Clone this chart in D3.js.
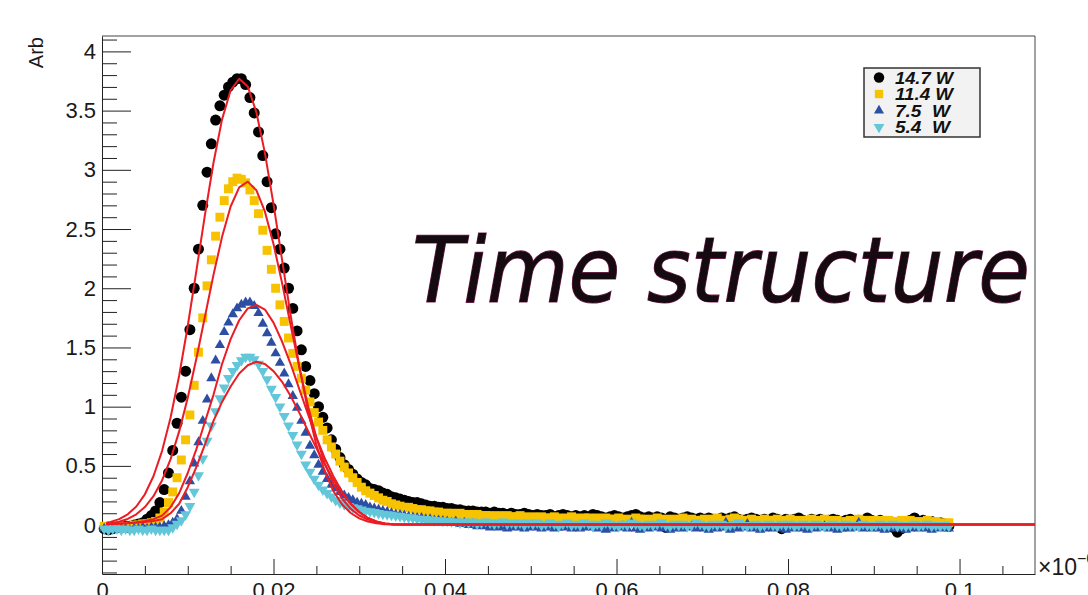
<!DOCTYPE html>
<html>
<head>
<meta charset="utf-8">
<script src="https://cdn.jsdelivr.net/npm/d3@7"></script>
<style>
  html, body { margin: 0; padding: 0; background: #ffffff; }
  svg { display: block; }
</style>
</head>
<body>
<div id="chart"></div>
<script>
// ---- histogram binning (time axis, in units of 1e-6) ----
const binStart = 0.00025;
const binWidth = 0.0005;

// ---- measured pulse shapes per laser power ----
const series147 = [
  -0.03,-0.04,-0.03,-0.02,-0.02,-0.01,-0.01,0.00,0.01,0.02,
  0.05,0.08,0.12,0.19,0.30,0.44,0.63,0.86,1.08,1.30,
  1.65,2.00,2.33,2.70,2.98,3.22,3.42,3.54,3.63,3.70,
  3.74,3.77,3.77,3.72,3.61,3.48,3.32,3.12,2.90,2.68,
  2.46,2.33,2.17,2.00,1.83,1.64,1.48,1.34,1.22,1.11,
  1.00,0.91,0.82,0.72,0.64,0.57,0.51,0.47,0.43,0.39,
  0.36,0.34,0.31,0.30,0.29,0.27,0.26,0.24,0.23,0.22,
  0.21,0.20,0.19,0.19,0.18,0.17,0.16,0.16,0.15,0.15,
  0.14,0.14,0.13,0.13,0.12,0.12,0.12,0.11,0.11,0.11,
  0.10,0.11,0.10,0.10,0.09,0.10,0.09,0.09,0.10,0.09,
  0.08,0.09,0.08,0.08,0.09,0.07,0.08,0.09,0.08,0.07,
  0.08,0.07,0.08,0.07,0.09,0.08,0.07,0.06,0.07,0.08,
  0.07,0.06,0.07,0.08,0.09,0.07,0.06,0.07,0.06,0.07,
  0.06,-0.02,0.07,0.06,0.05,0.06,0.07,0.06,0.05,0.06,
  0.05,0.06,0.05,0.04,0.06,0.05,0.06,0.07,0.05,0.04,
  0.05,0.06,0.05,0.04,0.05,0.04,0.06,0.05,-0.03,0.05,
  0.04,0.05,0.06,0.04,0.03,0.05,0.04,0.05,0.03,0.04,
  0.05,0.04,0.03,0.04,0.05,0.03,0.04,0.03,0.06,0.04,
  0.03,0.04,0.02,0.03,-0.02,-0.06,-0.03,0.02,0.04,0.06,
  0.03,0.04,0.02,0.03,0.01,0.02,0.01,-0.01
];
const series114 = [
  -0.01,-0.02,-0.02,-0.01,-0.02,-0.01,-0.01,0.00,0.00,0.01,
  0.01,0.02,0.03,0.06,0.11,0.19,0.28,0.40,0.55,0.72,
  0.93,1.18,1.46,1.75,2.02,2.24,2.44,2.60,2.74,2.84,
  2.90,2.93,2.92,2.89,2.83,2.74,2.63,2.49,2.32,2.16,
  2.00,1.86,1.72,1.58,1.45,1.34,1.24,1.14,1.04,0.95,
  0.87,0.80,0.72,0.66,0.60,0.54,0.49,0.44,0.40,0.36,
  0.32,0.29,0.27,0.25,0.23,0.21,0.20,0.18,0.17,0.16,
  0.15,0.15,0.14,0.13,0.13,0.12,0.12,0.11,0.11,0.10,
  0.10,0.10,0.09,0.10,0.09,0.09,0.08,0.09,0.08,0.08,
  0.08,0.07,0.08,0.07,0.08,0.07,0.07,0.08,0.07,0.06,
  0.07,0.06,0.07,0.06,0.06,0.07,0.06,0.05,0.06,0.07,
  0.06,0.05,0.06,0.06,0.05,0.06,0.05,0.06,0.05,0.05,
  0.06,0.05,0.04,0.05,0.06,0.05,0.05,0.04,0.05,0.06,
  0.05,0.04,0.05,0.04,0.05,0.06,0.04,0.05,0.04,0.04,
  0.05,0.04,0.05,0.06,0.04,0.04,0.05,0.06,0.05,0.04,
  0.04,0.05,0.04,0.03,0.05,0.04,0.04,0.05,0.03,0.04,
  0.05,0.04,0.03,0.04,0.04,0.05,0.03,0.04,0.05,0.04,
  0.03,0.04,-0.02,0.03,0.04,0.03,0.05,0.04,0.03,0.04,
  0.03,0.04,0.03,0.04,0.03,0.02,0.04,0.03,0.04,0.03,
  0.02,0.03,0.04,0.02,0.03,0.02,0.01,0.02
];
const series75 = [
  -0.03,-0.04,-0.03,-0.04,-0.03,-0.03,-0.04,-0.03,-0.03,-0.02,
  -0.03,-0.02,-0.02,-0.02,-0.01,0.00,0.02,0.05,0.12,0.24,
  0.37,0.52,0.70,0.88,1.06,1.24,1.39,1.52,1.63,1.71,
  1.78,1.83,1.86,1.88,1.88,1.85,1.79,1.70,1.62,1.54,
  1.45,1.37,1.28,1.19,1.09,0.99,0.88,0.78,0.67,0.59,
  0.51,0.45,0.39,0.34,0.31,0.28,0.25,0.23,0.21,0.19,
  0.18,0.17,0.15,0.14,0.13,0.12,0.11,0.10,0.09,0.085,
  0.08,0.07,0.065,0.06,0.06,0.05,0.05,0.04,0.04,0.035,
  0.03,0.02,0.03,0.01,0.02,0.00,0.01,-0.01,0.00,-0.01,
  -0.02,-0.01,-0.02,-0.01,-0.03,-0.02,-0.01,-0.02,-0.03,-0.02,
  -0.01,-0.02,-0.03,-0.02,-0.01,-0.03,-0.02,-0.02,-0.01,-0.03,
  -0.02,-0.03,-0.02,-0.01,-0.02,-0.03,-0.02,-0.04,-0.02,-0.03,
  -0.02,-0.01,-0.03,0.02,-0.03,-0.04,-0.02,-0.03,-0.02,-0.01,
  -0.03,-0.02,-0.04,-0.03,-0.02,-0.03,-0.02,-0.01,-0.03,-0.02,
  -0.03,-0.04,-0.02,-0.03,-0.02,0.02,-0.04,-0.02,-0.03,-0.02,
  0.01,-0.03,-0.02,-0.04,-0.03,-0.02,-0.03,-0.02,-0.03,-0.04,
  -0.02,-0.03,-0.02,-0.03,-0.04,-0.02,-0.03,-0.02,-0.01,-0.03,
  -0.02,-0.04,-0.03,-0.02,-0.03,-0.02,0.02,-0.03,-0.02,-0.03,
  -0.02,-0.03,-0.04,-0.03,-0.02,-0.03,-0.02,-0.04,-0.03,-0.02,
  -0.03,-0.02,-0.03,-0.04,-0.02,-0.03,-0.02,-0.03
];
const series54 = [
  -0.03,-0.04,-0.03,-0.03,-0.04,-0.03,-0.04,-0.04,-0.03,-0.04,
  -0.04,-0.03,-0.04,-0.04,-0.04,-0.04,-0.02,0.01,0.04,0.09,
  0.16,0.28,0.42,0.56,0.71,0.84,0.96,1.07,1.16,1.24,
  1.30,1.35,1.39,1.42,1.42,1.40,1.36,1.30,1.23,1.15,
  1.08,1.00,0.92,0.84,0.76,0.68,0.60,0.51,0.45,0.39,
  0.34,0.30,0.27,0.24,0.21,0.19,0.175,0.16,0.15,0.14,
  0.13,0.12,0.115,0.11,0.10,0.095,0.09,0.085,0.08,0.075,
  0.07,0.065,0.06,0.055,0.05,0.05,0.045,0.04,0.04,0.035,
  0.035,0.03,0.03,0.02,0.03,0.02,0.03,0.01,0.02,0.03,
  0.02,0.01,0.02,0.03,0.01,0.02,0.01,0.02,0.00,0.02,
  0.01,0.02,0.00,0.01,0.02,0.01,-0.01,0.01,0.02,0.00,
  0.01,0.00,0.02,0.01,-0.01,0.01,0.00,0.02,0.01,0.00,
  -0.01,0.01,0.00,0.02,0.01,0.00,-0.01,0.01,0.00,0.01,
  0.02,0.00,-0.01,0.01,0.00,0.01,-0.01,0.00,0.02,0.01,
  0.00,-0.01,0.01,0.00,0.01,-0.01,0.00,0.01,0.02,0.00,
  -0.01,0.00,0.01,-0.01,0.00,0.01,0.00,-0.01,0.01,0.00,
  0.01,-0.01,0.00,0.01,0.00,-0.01,0.01,0.00,-0.01,0.00,
  0.01,0.00,-0.01,0.01,0.00,0.00,-0.01,0.01,0.00,-0.01,
  0.00,0.01,-0.01,0.00,0.01,-0.01,0.00,-0.01,0.00,0.01,
  -0.01,0.00,0.01,-0.01,0.00,-0.01,0.00,-0.01
];

// ---- fitted curves (sampled) ----
const fitX = [0.0005,0.001,0.002,0.003,0.004,0.005,0.006,0.007,0.008,0.009,
  0.010,0.011,0.012,0.013,0.014,0.015,0.016,0.017,0.018,0.019,
  0.020,0.021,0.022,0.023,0.024,0.025,0.026,0.027,0.028,0.029,
  0.030,0.031,0.032,0.033,0.034,0.035,0.036,0.1088];
const fit147 = [0.019,0.027,0.050,0.091,0.157,0.260,0.412,0.625,0.908,1.263,
  1.681,2.144,2.618,3.060,3.426,3.672,3.769,3.704,3.486,3.141,
  2.710,2.239,1.771,1.342,0.973,0.676,0.449,0.286,0.174,0.102,
  0.057,0.030,0.016,0.008,0.006,0.006,0.006,0.006];
const fit114 = [0.011,0.015,0.028,0.052,0.091,0.152,0.244,0.377,0.557,0.791,
  1.076,1.405,1.759,2.113,2.434,2.690,2.852,2.900,2.828,2.646,
  2.374,2.043,1.687,1.336,1.015,0.740,0.517,0.347,0.223,0.137,
  0.081,0.046,0.025,0.013,0.008,0.006,0.006,0.006];
const fit75 = [0.008,0.010,0.013,0.018,0.025,0.035,0.050,0.080,0.150,0.27,
  0.44,0.64,0.87,1.10,1.36,1.57,1.73,1.83,1.86,1.82,
  1.71,1.55,1.36,1.15,0.94,0.74,0.56,0.41,0.28,0.18,
  0.11,0.06,0.03,0.013,0.007,0.006,0.006,0.006];
const fit54 = [0.008,0.010,0.012,0.015,0.020,0.026,0.034,0.050,0.100,0.18,
  0.32,0.49,0.68,0.88,1.04,1.17,1.28,1.35,1.38,1.36,
  1.30,1.21,1.09,0.95,0.80,0.65,0.51,0.38,0.27,0.18,
  0.11,0.06,0.03,0.012,0.006,0.006,0.006,0.006];

// ---- axis ticks and labels ----
const xMajorTicks = [0, 0.02, 0.04, 0.06, 0.08, 0.1];
const xTickLabels = ["0", "0.02", "0.04", "0.06", "0.08", "0.1"];
const yMajorTicks = [0, 0.5, 1, 1.5, 2, 2.5, 3, 3.5, 4];
const yTickLabels = ["0", "0.5", "1", "1.5", "2", "2.5", "3", "3.5", "4"];
const legendLabels = ["14.7 W", "11.4 W", "7.5  W", "5.4  W"];

// ---- drawing ----
const W = 1088, H = 595;
const frame = { left: 102, right: 1035, top: 36, bottom: 574 };
const font = "'Liberation Sans', Arial, Helvetica, sans-serif";

const svg = d3.select("#chart").append("svg")
  .attr("width", W).attr("height", H)
  .style("background", "#ffffff");

const x = d3.scaleLinear().domain([0, 0.1088]).range([frame.left, frame.right]);
const y = d3.scaleLinear().domain([-0.413, 4.13]).range([frame.bottom, frame.top]);

// frame (top and right sides)
svg.append("path")
  .attr("d", `M${frame.left},${frame.top}H${frame.right}V${frame.bottom}`)
  .attr("fill", "none").attr("stroke", "#444").attr("stroke-width", 1);

// minor tick positions
const yMinor = d3.range(-4, 42).map(k => k / 10).filter(v => Math.abs(v * 2 - Math.round(v * 2)) > 1e-6);
const xMinor = d3.range(0, 22).map(k => k * 0.005).filter(v => Math.abs(v / 0.02 - Math.round(v / 0.02)) > 1e-6);

function styleAxis(g, size) {
  g.attr("font-family", font).attr("font-size", size);
  g.selectAll("line").attr("stroke", "#222").attr("stroke-width", 1);
  g.select(".domain").attr("stroke", "#222").attr("stroke-width", 1);
  g.selectAll("text").attr("fill", "#1a1a1a");
}

// y axis
const gyMinor = svg.append("g").attr("transform", `translate(${frame.left},0)`)
  .call(d3.axisLeft(y).tickValues(yMinor).tickFormat("").tickSize(-15).tickSizeOuter(0));
gyMinor.select(".domain").remove();
styleAxis(gyMinor, 22);
const gy = svg.append("g").attr("transform", `translate(${frame.left},0)`)
  .call(d3.axisLeft(y).tickValues(yMajorTicks)
    .tickFormat((d, i) => yTickLabels[i]).tickSize(-29).tickPadding(6).tickSizeOuter(0));
styleAxis(gy, 22);

// x axis
const gxMinor = svg.append("g").attr("transform", `translate(0,${frame.bottom})`)
  .call(d3.axisBottom(x).tickValues(xMinor).tickFormat("").tickSize(-8).tickSizeOuter(0));
gxMinor.select(".domain").remove();
styleAxis(gxMinor, 22);
const gx = svg.append("g").attr("transform", `translate(0,${frame.bottom})`)
  .call(d3.axisBottom(x).tickValues(xMajorTicks)
    .tickFormat((d, i) => xTickLabels[i]).tickSize(-15).tickPadding(8).tickSizeOuter(0));
styleAxis(gx, 22);

// exponent label of the x axis
const expo = svg.append("text")
  .attr("x", 1038).attr("y", 575)
  .attr("font-family", font).attr("font-size", 23).attr("fill", "#1a1a1a");
expo.append("tspan").text("\u00d710");
expo.append("tspan").attr("dy", -11).attr("font-size", 16).text("\u22126");

// y axis title
svg.append("text")
  .attr("transform", "translate(43,37) rotate(-90)")
  .attr("text-anchor", "end")
  .attr("font-family", font).attr("font-size", 20).attr("fill", "#1a1a1a")
  .text("Arb");

// marker series
const binX = i => binStart + i * binWidth;
const seriesDefs = [
  { values: series147, type: d3.symbolCircle, size: 95, color: "#000000", rot: 0 },
  { values: series114, type: d3.symbolSquare, size: 80, color: "#f7c300", rot: 0 },
  { values: series75,  type: d3.symbolTriangle, size: 46, color: "#2c4ea3", rot: 0 },
  { values: series54,  type: d3.symbolTriangle, size: 52, color: "#63c6d9", rot: 180 }
];

seriesDefs.forEach(s => {
  const sym = d3.symbol().type(s.type).size(s.size);
  svg.append("g").selectAll("path")
    .data(s.values)
    .join("path")
    .attr("d", sym)
    .attr("transform", (d, i) => `translate(${x(binX(i))},${y(d)}) rotate(${s.rot})`)
    .attr("fill", s.color);
});

// fit curves
const line = d3.line().x((d, i) => x(fitX[i])).y(d => y(d));
[fit147, fit114, fit75, fit54].forEach(f => {
  svg.append("path")
    .attr("d", line(f))
    .attr("fill", "none")
    .attr("stroke", "#ec1c24")
    .attr("stroke-width", 2)
    .attr("stroke-linejoin", "round");
});

// big caption
svg.append("text")
  .attr("x", 412).attr("y", 302)
  .attr("font-family", "'DejaVu Sans', Verdana, sans-serif")
  .attr("font-style", "oblique")
  .attr("font-size", 90)
  .attr("textLength", 618)
  .attr("lengthAdjust", "spacingAndGlyphs")
  .attr("fill", "#140a10")
  .attr("stroke", "#7d2656")
  .attr("stroke-width", 1.2)
  .attr("paint-order", "stroke")
  .text("Time structure");

// legend
const lg = svg.append("g");
lg.append("rect")
  .attr("x", 864).attr("y", 68).attr("width", 116).attr("height", 69)
  .attr("fill", "#f2f2f2").attr("stroke", "#333").attr("stroke-width", 1.5);
const legendRowY = [77.5, 94, 110.5, 127];
const legendSizes = [85, 70, 44, 50];
const legendWidths = [58, 58, 55, 55];
seriesDefs.forEach((s, i) => {
  lg.append("path")
    .attr("d", d3.symbol().type(s.type).size(legendSizes[i]))
    .attr("transform", `translate(879,${legendRowY[i]}) rotate(${s.rot})`)
    .attr("fill", s.color);
  lg.append("text")
    .attr("x", 895).attr("y", legendRowY[i] + 6)
    .attr("font-family", font).attr("font-size", 16)
    .attr("font-weight", "bold").attr("font-style", "italic")
    .attr("fill", "#111")
    .attr("textLength", legendWidths[i])
    .attr("lengthAdjust", "spacingAndGlyphs")
    .style("white-space", "pre")
    .text(legendLabels[i]);
});
</script>
</body>
</html>
